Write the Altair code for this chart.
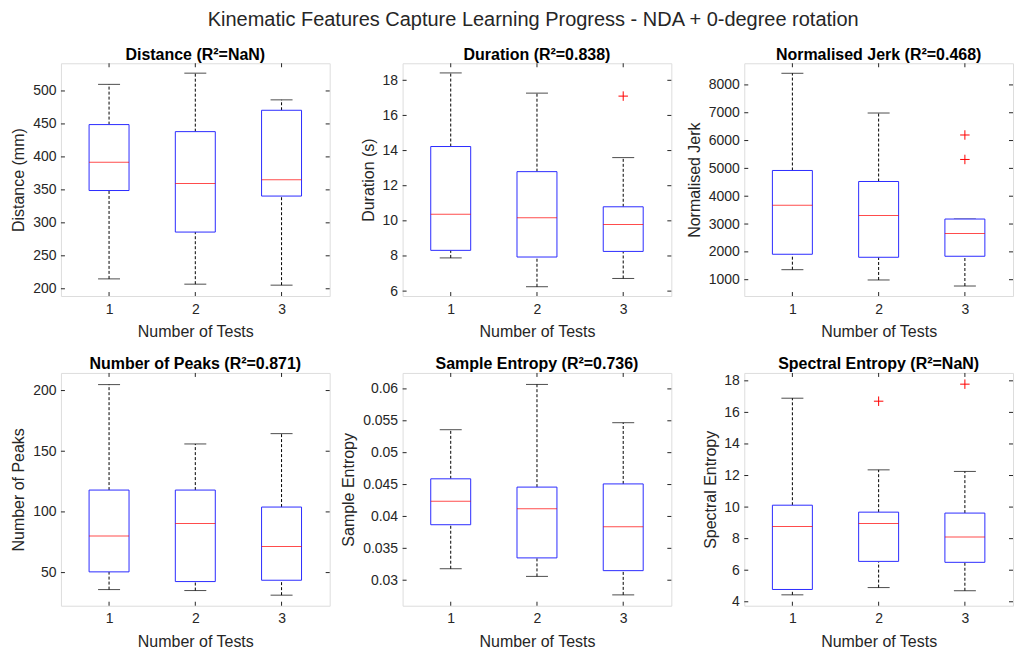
import altair as alt
import pandas as pd

FONT = "Liberation Sans"
AXIS_COLOR = "#262626"
BOX_COLOR = "#2b2bff"
W, H = 269, 233
TESTS = [1, 2, 3]

SUPTITLE = "Kinematic Features Capture Learning Progress - NDA + 0-degree rotation"

# Distance
distance_low = [215, 207, 205.5]
distance_q1 = [349, 286, 340.6]
distance_median = [392, 359.5, 365.5]
distance_q3 = [449, 438.3, 470.7]
distance_high = [510, 527, 486.5]
distance_out_test = []
distance_out_value = []
distance_ticks = [200, 250, 300, 350, 400, 450, 500]
distance_domain = [189, 542]

# Duration
duration_low = [7.89, 6.25, 6.72]
duration_q1 = [8.32, 7.94, 8.26]
duration_median = [10.38, 10.17, 9.79]
duration_q3 = [14.23, 12.8, 10.8]
duration_high = [18.42, 17.27, 13.6]
duration_out_test = [3]
duration_out_value = [17.1]
duration_ticks = [6, 8, 10, 12, 14, 16, 18]
duration_domain = [5.72, 18.97]

# Normalised jerk
jerk_low = [1360, 990, 773]
jerk_q1 = [1914, 1806, 1842]
jerk_median = [3679, 3305, 2656]
jerk_q3 = [4925, 4529, 3180]
jerk_high = [8418, 6990, 3180]
jerk_out_test = [3, 3]
jerk_out_value = [6200, 5321]
jerk_ticks = [1000, 2000, 3000, 4000, 5000, 6000, 7000, 8000]
jerk_domain = [413, 8778]

# Number of peaks
peaks_low = [36, 35.2, 31.4]
peaks_q1 = [50.6, 42.6, 43.7]
peaks_median = [80.1, 90.4, 71.6]
peaks_q3 = [118, 118, 104]
peaks_high = [204.9, 156, 164.5]
peaks_out_test = []
peaks_out_value = []
peaks_ticks = [50, 100, 150, 200]
peaks_domain = [22.7, 214.5]

# Sample entropy
sampen_low = [0.0318, 0.0306, 0.0277]
sampen_q1 = [0.0387, 0.0335, 0.0315]
sampen_median = [0.0424, 0.0412, 0.0384]
sampen_q3 = [0.0459, 0.0446, 0.0451]
sampen_high = [0.0536, 0.0607, 0.0547]
sampen_out_test = []
sampen_out_value = []
sampen_ticks = [0.03, 0.035, 0.04, 0.045, 0.05, 0.055, 0.06]
sampen_domain = [0.026, 0.0625]

# Spectral entropy
specen_low = [4.44, 4.9, 4.7]
specen_q1 = [4.78, 6.56, 6.5]
specen_median = [8.77, 8.96, 8.1]
specen_q3 = [10.12, 9.68, 9.62]
specen_high = [16.9, 12.36, 12.26]
specen_out_test = [2, 3]
specen_out_value = [16.71, 17.79]
specen_ticks = [4, 6, 8, 10, 12, 14, 16, 18]
specen_domain = [3.75, 18.5]


def panel(title, ytitle, low, q1, med, q3, high, out_test, out_value,
          domain, ticks, title_x, fmt):
    box = pd.DataFrame({"test": TESTS, "low": low, "q1": q1, "median": med,
                        "q3": q3, "high": high})
    outliers = pd.DataFrame({"test": pd.Series(out_test, dtype=float),
                             "value": pd.Series(out_value, dtype=float)})
    ytick_df = pd.DataFrame({"v": ticks})
    xtick_df = pd.DataFrame({"t": TESTS})

    xscale = alt.Scale(domain=[0.5, 3.5], nice=False, zero=False)
    yscale = alt.Scale(domain=domain, nice=False, zero=False)
    xaxis = alt.Axis(values=TESTS, title="Number of Tests", ticks=False, domain=False,
                     grid=False, labelAngle=0, labelPadding=6, format="d",
                     labelFont=FONT, labelFontSize=14, labelColor=AXIS_COLOR,
                     titleFont=FONT, titleFontSize=16, titleFontWeight="normal",
                     titleColor=AXIS_COLOR, titlePadding=8)
    yaxis = alt.Axis(values=ticks, title=ytitle, ticks=False, domain=False, grid=False,
                     labelPadding=5, format=fmt,
                     labelFont=FONT, labelFontSize=14, labelColor=AXIS_COLOR,
                     titleFont=FONT, titleFontSize=16, titleFontWeight="normal",
                     titleColor=AXIS_COLOR, titleX=title_x, titleY=H / 2,
                     titleAngle=270, titleAlign="center", titleBaseline="middle")

    def X(field):
        return alt.X(field, type="quantitative", scale=xscale, axis=xaxis)

    def Y(field):
        return alt.Y(field, type="quantitative", scale=yscale, axis=yaxis)

    base = alt.Chart(box)
    upper = base.mark_rule(color="black", strokeDash=[3, 2], strokeWidth=1).encode(
        x=X("test"), y=Y("q3"), y2="high:Q")
    lower = base.mark_rule(color="black", strokeDash=[3, 2], strokeWidth=1).encode(
        x=X("test"), y=Y("low"), y2="q1:Q")
    cap_hi = base.mark_tick(orient="horizontal", size=22, thickness=1, color="black").encode(
        x=X("test"), y=Y("high"))
    cap_lo = base.mark_tick(orient="horizontal", size=22, thickness=1, color="black").encode(
        x=X("test"), y=Y("low"))
    body = base.mark_bar(size=40, fill="white", stroke=BOX_COLOR, strokeWidth=1).encode(
        x=X("test"), y=Y("q1"), y2="q3:Q")
    mid = base.mark_tick(orient="horizontal", size=40, thickness=1, color="#ff0000").encode(
        x=X("test"), y=Y("median"))

    # inward tick marks on all four sides of the frame
    yt = alt.Chart(ytick_df)
    tick_l = yt.mark_rule(color=AXIS_COLOR, strokeWidth=1).encode(
        y=Y("v"), x=alt.value(0), x2=alt.value(4))
    tick_r = yt.mark_rule(color=AXIS_COLOR, strokeWidth=1).encode(
        y=Y("v"), x=alt.value(W - 4), x2=alt.value(W))
    xt = alt.Chart(xtick_df)
    tick_b = xt.mark_rule(color=AXIS_COLOR, strokeWidth=1).encode(
        x=X("t"), y=alt.value(H), y2=alt.value(H - 4))
    tick_t = xt.mark_rule(color=AXIS_COLOR, strokeWidth=1).encode(
        x=X("t"), y=alt.value(0), y2=alt.value(4))

    layers = [upper, lower, cap_hi, cap_lo, body, mid, tick_l, tick_r, tick_b, tick_t]
    if len(outliers):
        plus = alt.Chart(outliers).mark_point(
            shape="M-1,0L1,0M0,-1L0,1", size=90, color="#ff0000",
            strokeWidth=1, filled=False, opacity=1).encode(x=X("test"), y=Y("value"))
        layers.append(plus)

    return alt.layer(*layers).properties(
        width=W, height=H,
        title=alt.Title(title, font=FONT, fontSize=16, fontWeight="bold",
                        color="black", offset=0, anchor="middle"),
    )


panels = [
    panel("Distance (R²=NaN)", "Distance (mm)", distance_low, distance_q1, distance_median,
          distance_q3, distance_high, distance_out_test, distance_out_value,
          distance_domain, distance_ticks, -42, "d"),
    panel("Duration (R²=0.838)", "Duration (s)", duration_low, duration_q1, duration_median,
          duration_q3, duration_high, duration_out_test, duration_out_value,
          duration_domain, duration_ticks, -34, "d"),
    panel("Normalised Jerk (R²=0.468)", "Normalised Jerk", jerk_low, jerk_q1, jerk_median,
          jerk_q3, jerk_high, jerk_out_test, jerk_out_value,
          jerk_domain, jerk_ticks, -50, "d"),
    panel("Number of Peaks (R²=0.871)", "Number of Peaks", peaks_low, peaks_q1, peaks_median,
          peaks_q3, peaks_high, peaks_out_test, peaks_out_value,
          peaks_domain, peaks_ticks, -42, "d"),
    panel("Sample Entropy (R²=0.736)", "Sample Entropy", sampen_low, sampen_q1, sampen_median,
          sampen_q3, sampen_high, sampen_out_test, sampen_out_value,
          sampen_domain, sampen_ticks, -54, "~g"),
    panel("Spectral Entropy (R²=NaN)", "Spectral Entropy", specen_low, specen_q1, specen_median,
          specen_q3, specen_high, specen_out_test, specen_out_value,
          specen_domain, specen_ticks, -34, "d"),
]

chart = alt.concat(
    *panels, columns=3, spacing={"row": 77, "column": 73}, bounds="flush",
    title=alt.Title(SUPTITLE, font=FONT, fontSize=20, fontWeight="normal",
                    color=AXIS_COLOR, anchor="middle", offset=16, dx=21),
).properties(
    padding={"left": 10, "top": 10, "right": 0, "bottom": 0},
).configure_view(
    stroke=AXIS_COLOR, strokeWidth=1,
).configure(background="white")

chart.save("out.html", embed_options={"renderer": "svg", "actions": False})
